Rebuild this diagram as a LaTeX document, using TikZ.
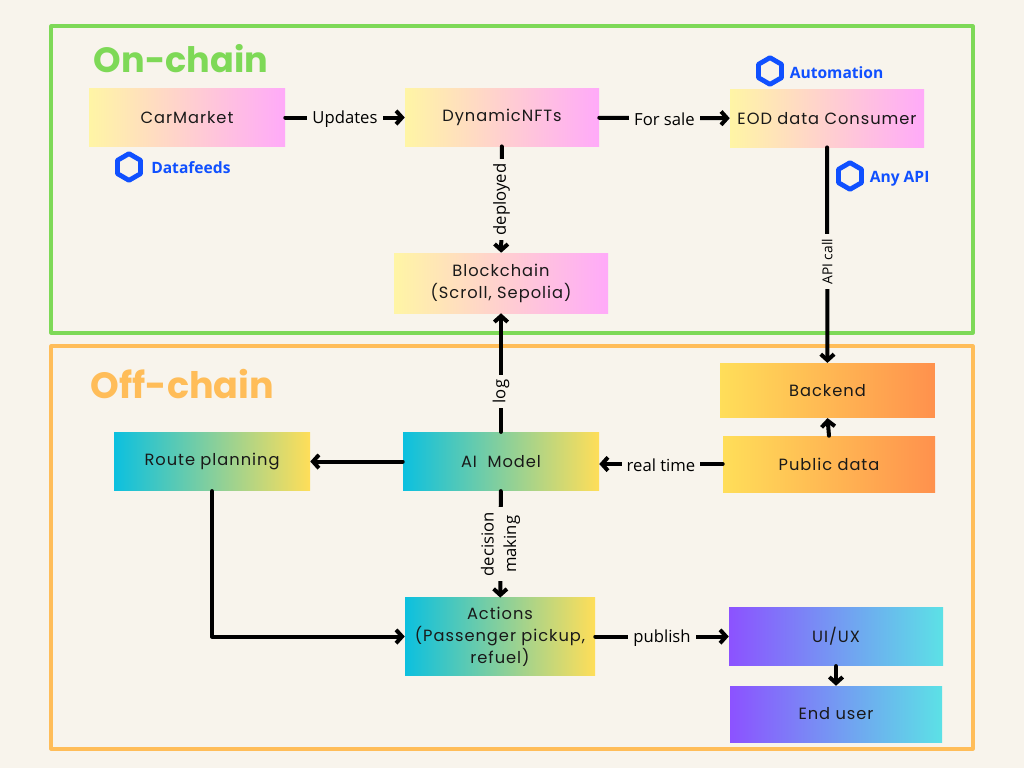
\documentclass[tikz,border=0pt]{standalone}
\usepackage{fontspec}
\setmainfont{Open Sans}
\newfontfamily\boxfont[LetterSpace=6]{Poppins}
\newfontfamily\titlefont{Poppins}
\usetikzlibrary{arrows.meta,shapes.geometric}

\definecolor{paper}{HTML}{F8F4EC}
\definecolor{chaingreen}{HTML}{7ED957}
\definecolor{chainorange}{HTML}{FFBD59}
\definecolor{linkblue}{HTML}{1050FF}
\definecolor{pinkA}{HTML}{FFF5A5}
\definecolor{pinkB}{HTML}{FFAAF9}
\definecolor{orangeA}{HTML}{FFDE59}
\definecolor{orangeB}{HTML}{FF914D}
\definecolor{tealA}{HTML}{0CC0DF}
\definecolor{tealB}{HTML}{FFDE59}
\definecolor{purpleA}{HTML}{8C52FF}
\definecolor{purpleB}{HTML}{5CE1E6}

\begin{document}
\begin{tikzpicture}[
  x=.75pt,y=-.75pt,
  font=\fontsize{12.5}{15}\selectfont,
  frame/.style={draw=#1,line width=3pt,fill=none,inner sep=0pt},
  title/.style={font=\titlefont\bfseries\fontsize{26.3}{30}\selectfont,text=#1,inner sep=0pt},
  box/.style={inner sep=0pt,align=center,text=black!90,
              font=\boxfont\fontsize{12.2}{16.5}\selectfont},
  pinkbox/.style={box,left color=pinkA,right color=pinkB},
  orangebox/.style={box,left color=orangeA,right color=orangeB},
  tealbox/.style={box,left color=tealA,right color=tealB},
  purplebox/.style={box,left color=purpleA,right color=purpleB},
  hex/.style={regular polygon,regular polygon sides=6,shape border rotate=30,
              draw=linkblue,line width=3.6pt,inner sep=0pt,minimum size=20pt},
  chainlink/.style={text=linkblue,inner sep=0pt,anchor=west,
              font=\bfseries\fontsize{11.7}{13}\selectfont},
  arr/.style={-{Straight Barb[length=4.5pt,width=10pt,line width=3pt]},line width=3pt},
  lbl/.style={fill=paper,inner sep=3.8pt},
  hlbl/.style={lbl,yshift=-1pt},
  vlbl/.style={lbl,rotate=90},
  every path/.style={line cap=round,line join=round}
]
\fill[paper] (0,0) rectangle (1024,768);

\node[frame=chaingreen,minimum width=691pt,minimum height=230pt] (onchain) at (512,179.5) {};
\node[frame=chainorange,minimum width=691pt,minimum height=302pt] (offchain) at (512,547.5) {};
\node[title=chaingreen] (ontitle) at (181,58.5) {On-chain};
\node[title=chainorange,font=\titlefont\bfseries\fontsize{27.4}{30}\selectfont] (offtitle) at (182.5,384) {Off-chain};

% upper frame
\node[pinkbox,minimum width=147pt,minimum height=44pt] (carmarket) at (187,117.5) {CarMarket};
\node[pinkbox,minimum width=145.5pt,minimum height=43pt] (nfts) at (502,117.5) {DynamicNFTs};
\node[pinkbox,minimum width=145.5pt,minimum height=43pt] (consumer) at (827,118.5) {EOD data Consumer};
\node[pinkbox,minimum width=160.5pt,minimum height=45pt] (chain) at (501,283) {Blockchain\\(Scroll, Sepolia)};

\node[hex] (datahex) at (129,167) {};
\node[chainlink] (datafeeds) at (151,168) {Datafeeds};
\node[hex] (autohex) at (770,71) {};
\node[chainlink] (automation) at (789.5,72.5) {Automation};
\node[hex] (apihex) at (850,176) {};
\node[chainlink] (anyapi) at (869.5,178.5) {Any API};

% lower frame
\node[orangebox,minimum width=161pt,minimum height=41pt] (backend) at (827.5,390.5) {Backend};
\node[orangebox,minimum width=159pt,minimum height=42pt] (public) at (829,464) {Public data};
\node[tealbox,minimum width=147pt,minimum height=44pt] (model) at (501,461.5) {AI\ \ Model};
\node[tealbox,minimum width=147pt,minimum height=44pt] (route) at (212,461.5) {Route planning};
\node[tealbox,minimum width=142.5pt,minimum height=58pt] (actions) at (500,636.5) {Actions\\(Passenger pickup,\\refuel)};
\node[purplebox,minimum width=160.5pt,minimum height=44pt] (uiux) at (836,636.5) {UI/UX};
\node[purplebox,minimum width=159pt,minimum height=42pt] (enduser) at (836,714) {End user};

\draw[arr] (carmarket) -- node[hlbl] {Updates} (nfts);
\draw[arr] (nfts) -- node[hlbl] {For sale} (consumer);
\draw[arr] (nfts) -- node[vlbl] {deployed} (chain);
\draw[arr] (consumer) -- node[vlbl,pos=.53,font=\fontsize{10.3}{12}\selectfont] {API call} (backend);
\draw[arr] (model) -- node[vlbl,pos=.34] {log} (chain);
\draw[arr] (public.north) -- (backend.south);
\draw[arr] (public.west) -- node[hlbl] {real time} (public.west -| model.east);
\draw[arr] (model) -- (route);
\draw[arr] (model) -- node[vlbl,align=center,font=\fontsize{12.5}{17}\selectfont] {decision\\making} (actions);
\draw[arr] (route.south) |- (actions.west);
\draw[arr] (actions) -- node[hlbl] {publish} (uiux);
\draw[arr] (uiux) -- (enduser);
\end{tikzpicture}
\end{document}
